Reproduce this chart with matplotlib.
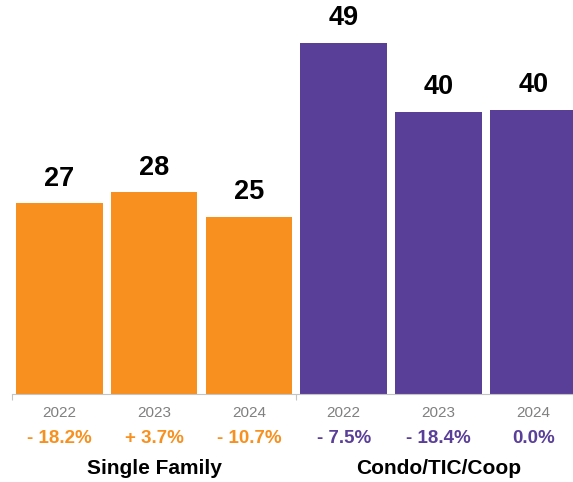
import matplotlib.pyplot as plt

plt.rcParams['font.family'] = ['Liberation Sans', 'DejaVu Sans']

# data
years = ['2022', '2023', '2024', '2022', '2023', '2024']
values = [26.8, 28.3, 24.9, 49.3, 39.6, 39.9]
changes = ['- 18.2%', '+ 3.7%', '- 10.7%', '- 7.5%', '- 18.4%', '0.0%']
groups = ['Single Family', 'Condo/TIC/Coop']
group_colors = ['#F7901E', '#5A3F99']

colors = [group_colors[0]] * 3 + [group_colors[1]] * 3
x = list(range(len(values)))

fig = plt.figure(figsize=(5.73, 4.82), dpi=100)
ax = fig.add_axes([0.0208, 0.183, 0.9792, 0.812])

ax.bar(x, values, width=0.913, color=colors)
ax.set_xlim(-0.5, 5.42)
ax.set_ylim(0, 55)

for s in ['top', 'right', 'left']:
    ax.spines[s].set_visible(False)
ax.spines['bottom'].set_color('#c4c4c4')
ax.spines['bottom'].set_linewidth(0.8)
ax.set_yticks([])
ax.set_xticks([-0.5, 2.5])
ax.set_xticklabels([])
ax.tick_params(axis='x', length=4.3, width=0.8, color='#c4c4c4', direction='out')

# value labels above bars
for xi, v in zip(x, values):
    ax.annotate(f'{v:.0f}', (xi, v), xytext=(0, 12.6), textcoords='offset points',
                ha='center', va='baseline', fontsize=19.5, fontweight='bold', color='black')

h = 391.4  # axes height in px
tr = ax.get_xaxis_transform()
for xi, yr, ch, c in zip(x, years, changes, colors):
    ax.text(xi, -22.9 / h, yr, transform=tr, ha='center', va='baseline',
            fontsize=11, color='#808080')
    ax.text(xi, -49.5 / h, ch, transform=tr, ha='center', va='baseline',
            fontsize=13.5, fontweight='bold', color=c)

for gx, g in zip([1, 4], groups):
    ax.text(gx, -80.2 / h, g, transform=tr, ha='center', va='baseline',
            fontsize=15, fontweight='bold', color='black')

fig.savefig('out.png', dpi=100)
